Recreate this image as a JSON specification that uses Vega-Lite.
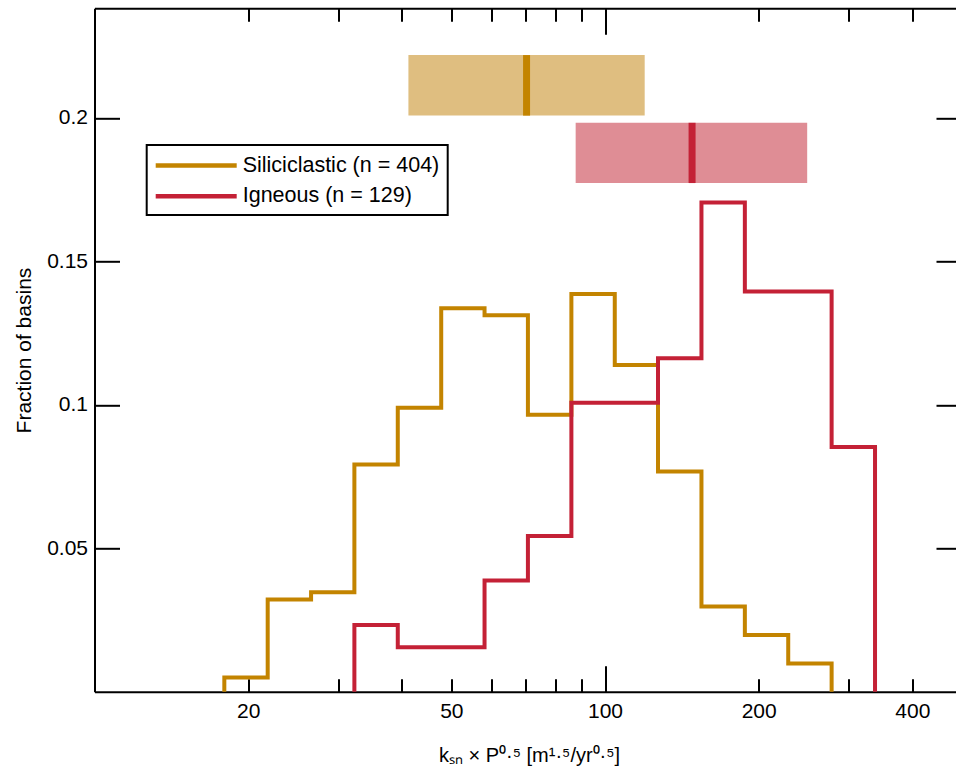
{
  "$schema": "https://vega.github.io/schema/vega-lite/v6.json",
  "width": 861.5,
  "height": 683.5,
  "autosize": {"type": "none"},
  "padding": {"left": 94.5, "top": 8.3, "right": 0, "bottom": 82.2},
  "background": "white",
  "config": {
    "view": {"stroke": null},
    "font": "Liberation Sans",
    "axis": {
      "grid": false,
      "domainColor": "black",
      "domainWidth": 2,
      "tickColor": "black",
      "tickWidth": 2,
      "labelColor": "black",
      "labelFont": "Liberation Sans",
      "labelFontSize": 21,
      "titleFont": "Liberation Sans",
      "titleColor": "black",
      "titleFontWeight": "normal",
      "labelOverlap": false,
      "labelFlush": false,
      "labelBound": false
    },
    "legend": {"strokeWidth": 2}
  },
  "datasets": {
    "hist": [
      {"series": "Siliciclastic (n = 404)", "i": 0, "x": 17.96, "frac": 0},
      {"series": "Siliciclastic (n = 404)", "i": 1, "x": 17.96, "frac": 0.00495},
      {"series": "Siliciclastic (n = 404)", "i": 2, "x": 21.84, "frac": 0.032178},
      {"series": "Siliciclastic (n = 404)", "i": 3, "x": 26.56, "frac": 0.034653},
      {"series": "Siliciclastic (n = 404)", "i": 4, "x": 32.29, "frac": 0.079208},
      {"series": "Siliciclastic (n = 404)", "i": 5, "x": 39.27, "frac": 0.09901},
      {"series": "Siliciclastic (n = 404)", "i": 6, "x": 47.77, "frac": 0.133663},
      {"series": "Siliciclastic (n = 404)", "i": 7, "x": 58.08, "frac": 0.131188},
      {"series": "Siliciclastic (n = 404)", "i": 8, "x": 70.63, "frac": 0.096535},
      {"series": "Siliciclastic (n = 404)", "i": 9, "x": 85.93, "frac": 0.138614},
      {"series": "Siliciclastic (n = 404)", "i": 10, "x": 104.5, "frac": 0.113861},
      {"series": "Siliciclastic (n = 404)", "i": 11, "x": 127.0, "frac": 0.076733},
      {"series": "Siliciclastic (n = 404)", "i": 12, "x": 154.5, "frac": 0.029703},
      {"series": "Siliciclastic (n = 404)", "i": 13, "x": 187.9, "frac": 0.019802},
      {"series": "Siliciclastic (n = 404)", "i": 14, "x": 228.5, "frac": 0.009901},
      {"series": "Siliciclastic (n = 404)", "i": 15, "x": 277.9, "frac": 0.009901},
      {"series": "Siliciclastic (n = 404)", "i": 16, "x": 277.9, "frac": 0},
      {"series": "Igneous (n = 129)", "i": 0, "x": 32.29, "frac": 0},
      {"series": "Igneous (n = 129)", "i": 1, "x": 32.29, "frac": 0.023256},
      {"series": "Igneous (n = 129)", "i": 2, "x": 39.27, "frac": 0.015504},
      {"series": "Igneous (n = 129)", "i": 3, "x": 47.77, "frac": 0.015504},
      {"series": "Igneous (n = 129)", "i": 4, "x": 58.08, "frac": 0.03876},
      {"series": "Igneous (n = 129)", "i": 5, "x": 70.63, "frac": 0.054264},
      {"series": "Igneous (n = 129)", "i": 6, "x": 85.93, "frac": 0.100775},
      {"series": "Igneous (n = 129)", "i": 7, "x": 104.5, "frac": 0.100775},
      {"series": "Igneous (n = 129)", "i": 8, "x": 127.0, "frac": 0.116279},
      {"series": "Igneous (n = 129)", "i": 9, "x": 154.5, "frac": 0.170543},
      {"series": "Igneous (n = 129)", "i": 10, "x": 187.9, "frac": 0.139535},
      {"series": "Igneous (n = 129)", "i": 11, "x": 228.5, "frac": 0.139535},
      {"series": "Igneous (n = 129)", "i": 12, "x": 277.9, "frac": 0.085271},
      {"series": "Igneous (n = 129)", "i": 13, "x": 338.0, "frac": 0.085271},
      {"series": "Igneous (n = 129)", "i": 14, "x": 338.0, "frac": 0}
    ],
    "boxes": [
      {"rock": "Siliciclastic", "q1": 41.2, "q3": 119.6, "med": 70.2, "ylo": 0.2008, "yhi": 0.2219},
      {"rock": "Igneous", "q1": 87.6, "q3": 248.9, "med": 148.1, "ylo": 0.1773, "yhi": 0.1983}
    ]
  },
  "layer": [
    {
      "data": {"name": "boxes"},
      "mark": {"type": "rect"},
      "encoding": {
        "x": {
          "field": "q1", "type": "quantitative",
          "scale": {"type": "log", "domain": [10, 487], "nice": false},
          "axis": {
            "orient": "top", "title": null, "labels": false, "domain": true,
            "values": [20, 30, 40, 50, 60, 70, 80, 90, 100, 200, 300, 400],
            "tickSize": {"condition": {"test": "datum.value === 100", "value": -26}, "value": -13}
          }
        },
        "x2": {"field": "q3"},
        "y": {
          "field": "ylo", "type": "quantitative",
          "scale": {"domain": [0, 0.2382], "nice": false, "zero": false},
          "axis": {
            "orient": "right", "title": null, "labels": false, "domain": false,
            "values": [0.05, 0.1, 0.15, 0.2],
            "tickSize": -20
          }
        },
        "y2": {"field": "yhi"},
        "fill": {
          "field": "rock", "type": "nominal",
          "scale": {"domain": ["Siliciclastic", "Igneous"], "range": ["#DFBE80", "#DF8D95"]},
          "legend": null
        }
      }
    },
    {
      "data": {"name": "boxes"},
      "mark": {"type": "rule", "strokeWidth": 7},
      "encoding": {
        "x": {"field": "med", "type": "quantitative", "scale": {"type": "log", "domain": [10, 487], "nice": false}, "axis": null},
        "y": {"field": "ylo", "type": "quantitative", "scale": {"domain": [0, 0.2382], "nice": false, "zero": false}, "axis": null},
        "y2": {"field": "yhi"},
        "stroke": {
          "field": "rock", "type": "nominal",
          "scale": {"domain": ["Siliciclastic", "Igneous"], "range": ["#C38400", "#C42136"]},
          "legend": null
        }
      }
    },
    {
      "data": {"name": "hist"},
      "mark": {"type": "line", "interpolate": "step-after", "strokeWidth": 4, "strokeJoin": "miter", "strokeCap": "butt"},
      "encoding": {
        "x": {
          "field": "x", "type": "quantitative",
          "scale": {"type": "log", "domain": [10, 487], "nice": false},
          "axis": {
            "orient": "bottom",
            "title": "kₛₙ × P⁰·⁵ [m¹·⁵/yr⁰·⁵]",
            "titleFontSize": 20,
            "titleX": 434.5,
            "titleY": 70,
            "titleBaseline": "alphabetic",
            "values": [20, 30, 40, 50, 60, 70, 80, 90, 100, 200, 300, 400],
            "labelExpr": "indexof([20, 50, 100, 200, 400], datum.value) >= 0 ? toString(datum.value) : ''",
            "labelPadding": {"condition": {"test": "datum.value === 100", "value": 35}, "value": 22},
            "tickSize": {"condition": {"test": "datum.value === 100", "value": -26}, "value": -13}
          }
        },
        "y": {
          "field": "frac", "type": "quantitative",
          "scale": {"domain": [0, 0.2382], "nice": false, "zero": false},
          "axis": {
            "orient": "left",
            "title": "Fraction of basins",
            "titleFontSize": 21,
            "titleX": -64.5,
            "titleY": 341.75,
            "titleBaseline": "alphabetic",
            "values": [0.05, 0.1, 0.15, 0.2],
            "labelExpr": "toString(datum.value)",
            "labelPadding": 32,
            "tickSize": -25
          }
        },
        "color": {
          "field": "series", "type": "nominal",
          "scale": {"domain": ["Siliciclastic (n = 404)", "Igneous (n = 129)"], "range": ["#C38400", "#C42136"]},
          "legend": {
            "orient": "none",
            "legendX": 52.2,
            "legendY": 136.7,
            "title": null,
            "symbolType": "M-4.05,0H4.05",
            "symbolSize": 400,
            "symbolStrokeWidth": 4.5,
            "symbolOffset": 29,
            "labelOffset": 34,
            "labelFontSize": 21.5,
            "labelFont": "Liberation Sans",
            "labelColor": "black",
            "labelLimit": 400,
            "padding": 8,
            "rowPadding": 7.8,
            "strokeColor": "black",
            "fillColor": "white",
            "direction": "vertical"
          }
        },
        "order": {"field": "i", "type": "quantitative"}
      }
    }
  ],
  "resolve": {"axis": {"x": "independent", "y": "independent"}}
}
